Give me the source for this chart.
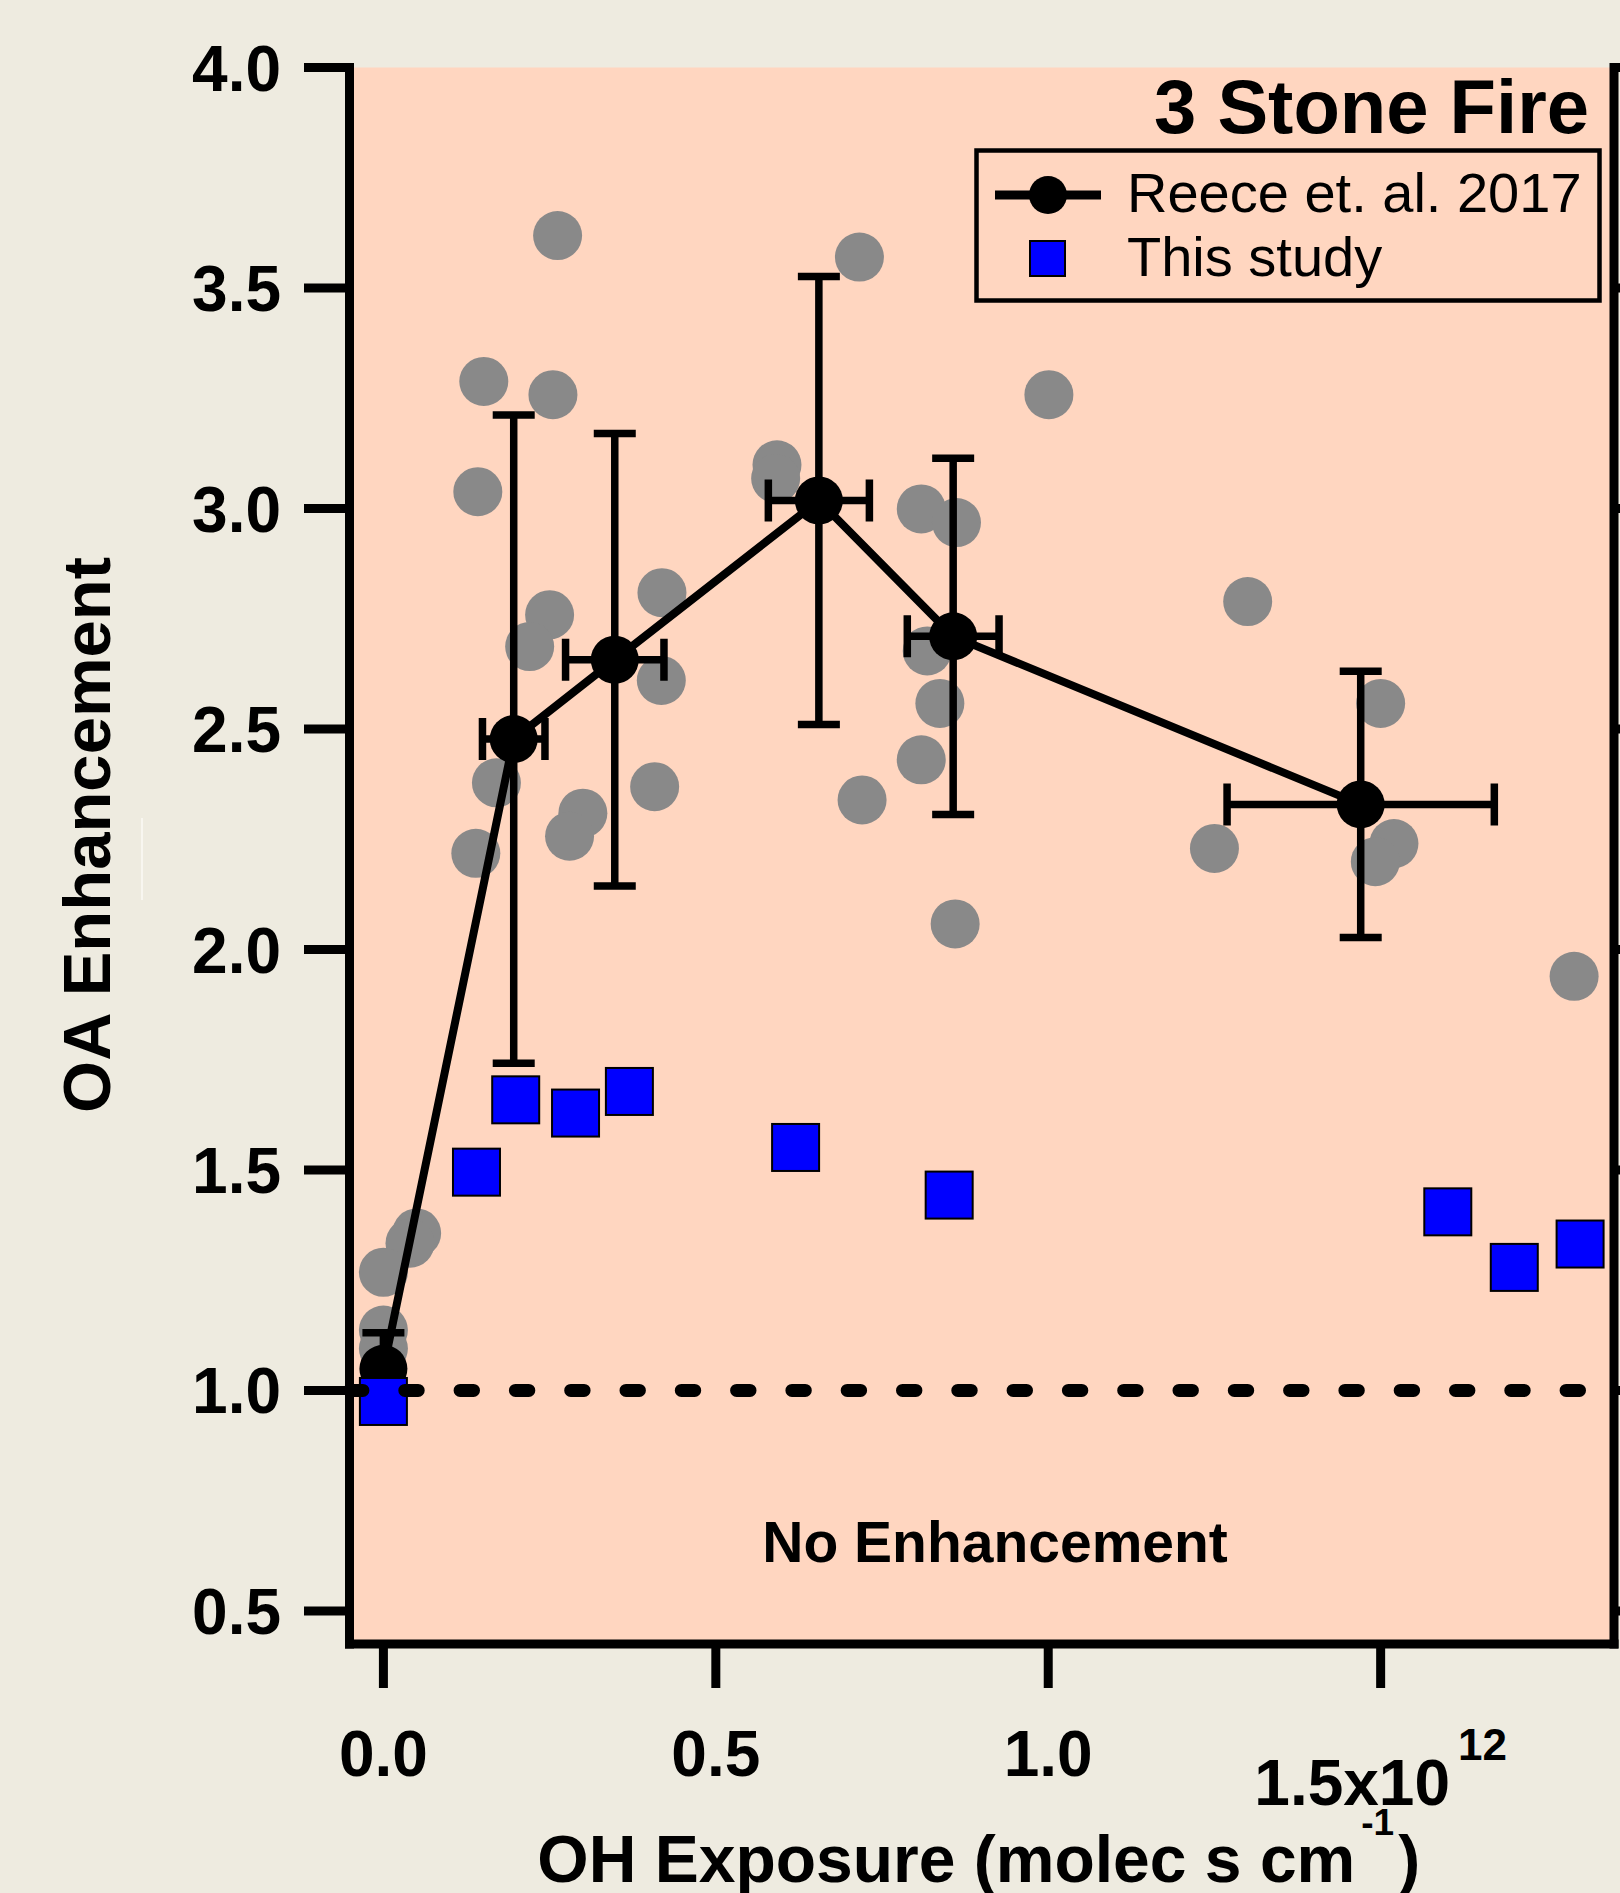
<!DOCTYPE html>
<html>
<head>
<meta charset="utf-8">
<script src="https://cdn.jsdelivr.net/npm/d3@7"></script>
<style>
  body { margin: 0; background: #eeebe0; }
  svg { display: block; }
</style>
</head>
<body>
<div id="chart"></div>
<script>
// DATA
// Reece et al. 2017 binned means (OH exposure in 1e12 molec s cm-1)
const reeceX = [0.0, 0.196, 0.348, 0.655, 0.857, 1.470];
const reeceY = [1.049, 2.477, 2.657, 3.018, 2.710, 2.329];
const reeceXErr = [0, 0.047, 0.074, 0.076, 0.069, 0.201];
const reeceYErr = [0.082, 0.735, 0.513, 0.508, 0.404, 0.302];

// Reece et al. 2017 individual samples (grey dots)
const sampleX = [0.262, 0.716, 0.151, 0.255, 1.001, 0.592, 0.590, 0.142, 0.809, 0.862,
  1.300, 0.419, 0.250, 0.220, 0.418, 0.818, 0.837, 1.500, 0.170, 0.408,
  0.300, 0.280, 0.139, 0.720, 0.809, 1.250, 1.520, 1.492, 0.860, 1.791,
  0.050, 0.040, 0.000, 0.000, 0.000];
const sampleY = [3.619, 3.570, 3.288, 3.258, 3.258, 3.099, 3.068, 3.038, 2.999, 2.968,
  2.789, 2.809, 2.759, 2.687, 2.610, 2.677, 2.558, 2.558, 2.378, 2.369,
  2.309, 2.257, 2.218, 2.339, 2.430, 2.229, 2.240, 2.199, 2.058, 1.939,
  1.357, 1.334, 1.268, 1.137, 1.095];

// This study
const studyX = [0.0, 0.140, 0.199, 0.289, 0.370, 0.620, 0.851, 1.601, 1.701, 1.800];
const studyY = [0.975, 1.495, 1.659, 1.629, 1.678, 1.551, 1.443, 1.405, 1.279, 1.332];

const yTicks = [0.5, 1.0, 1.5, 2.0, 2.5, 3.0, 3.5, 4.0];
const xTicks = [0.0, 0.5, 1.0, 1.5];
const legendLabels = ["Reece et. al. 2017", "This study"];
const baseline = 1.0;

// CANVAS SETUP
const width = 1620,
  height = 1893;
const plot = { left: 349.5, right: 1614, top: 67.5, bottom: 1644 };
const font = "'Liberation Sans', Arial, sans-serif";

const svg = d3
  .select("#chart")
  .append("svg")
  .attr("width", width)
  .attr("height", height)
  .style("font-family", font);

const xScale = d3
  .scaleLinear()
  .domain([-0.051, 1.851])
  .range([plot.left, plot.right]);

const yScale = d3
  .scaleLinear()
  .domain([0.425, 4.0])
  .range([plot.bottom, plot.top]);

svg
  .append("rect")
  .attr("x", plot.left)
  .attr("y", plot.top)
  .attr("width", plot.right - plot.left)
  .attr("height", plot.bottom - plot.top)
  .attr("fill", "#ffd6c0");

// faint stray stroke left of the y title in the original figure
svg
  .append("line")
  .attr("x1", 142)
  .attr("x2", 142)
  .attr("y1", 818)
  .attr("y2", 900)
  .attr("stroke", "#f8f6f0")
  .attr("stroke-width", 2);

// RENDER
const samples = sampleX.map((x, i) => ({ x, y: sampleY[i] }));
const reece = reeceX.map((x, i) => ({
  x,
  y: reeceY[i],
  ex: reeceXErr[i],
  ey: reeceYErr[i],
}));
const study = studyX.map((x, i) => ({ x, y: studyY[i] }));

svg
  .append("g")
  .selectAll("circle")
  .data(samples)
  .join("circle")
  .attr("cx", (d) => xScale(d.x))
  .attr("cy", (d) => yScale(d.y))
  .attr("r", 24.5)
  .attr("fill", "#898989");

const cap = 21;
svg
  .append("g")
  .selectAll("path")
  .data(reece)
  .join("path")
  .attr("fill", "none")
  .attr("stroke", "black")
  .attr("stroke-width", 7.5)
  .attr("d", (d) => {
    const cx = xScale(d.x),
      cy = yScale(d.y);
    const y0 = yScale(d.y - d.ey),
      y1 = yScale(d.y + d.ey);
    let p = `M${cx},${y0}V${y1}M${cx - cap},${y1}H${cx + cap}M${cx - cap},${y0}H${cx + cap}`;
    if (d.ex > 0) {
      const x0 = xScale(d.x - d.ex),
        x1 = xScale(d.x + d.ex);
      p += `M${x0},${cy}H${x1}M${x0},${cy - cap}V${cy + cap}M${x1},${cy - cap}V${cy + cap}`;
    }
    return p;
  });

svg
  .append("path")
  .datum(reece)
  .attr("fill", "none")
  .attr("stroke", "black")
  .attr("stroke-width", 8)
  .attr(
    "d",
    d3
      .line()
      .x((d) => xScale(d.x))
      .y((d) => yScale(d.y))
  );

svg
  .append("g")
  .selectAll("circle")
  .data(reece)
  .join("circle")
  .attr("cx", (d) => xScale(d.x))
  .attr("cy", (d) => yScale(d.y))
  .attr("r", 24)
  .attr("fill", "black");

const sq = 47;
svg
  .append("g")
  .selectAll("rect")
  .data(study)
  .join("rect")
  .attr("x", (d) => xScale(d.x) - sq / 2)
  .attr("y", (d) => yScale(d.y) - sq / 2)
  .attr("width", sq)
  .attr("height", sq)
  .attr("fill", "#0000ff")
  .attr("stroke", "black")
  .attr("stroke-width", 2);

// no enhancement line
svg
  .append("line")
  .attr("x1", plot.left)
  .attr("x2", plot.right)
  .attr("y1", yScale(baseline))
  .attr("y2", yScale(baseline))
  .attr("stroke", "black")
  .attr("stroke-width", 13)
  .attr("stroke-linecap", "round")
  .attr("stroke-dasharray", "13.4 41.9");

svg
  .append("text")
  .attr("x", xScale(0.92))
  .attr("y", yScale(0.611))
  .attr("text-anchor", "middle")
  .attr("font-weight", "bold")
  .attr("font-size", 57)
  .text("No Enhancement");

// AXES
function styleAxis(g) {
  g.select(".domain")
    .attr("stroke-width", 9)
    .attr("stroke-linecap", "square");
  g.selectAll(".tick line").attr("stroke-width", 9);
  g.selectAll(".tick text")
    .attr("fill", "black")
    .attr("font-family", font)
    .attr("font-weight", "bold")
    .attr("font-size", 64);
  return g;
}

const yl = svg
  .append("g")
  .attr("transform", `translate(${plot.left},0)`)
  .call(
    d3
      .axisLeft(yScale)
      .tickValues(yTicks)
      .tickFormat(d3.format(".1f"))
      .tickSize(45.5)
      .tickSizeOuter(0)
      .tickPadding(23)
      .offset(0)
  )
  .call(styleAxis);
yl.selectAll(".tick text").attr("dy", "0.36em");

svg
  .append("g")
  .attr("transform", `translate(${plot.right},0)`)
  .call(
    d3
      .axisRight(yScale)
      .tickValues(yTicks)
      .tickFormat("")
      .tickSize(45.5)
      .tickSizeOuter(0)
      .offset(0)
  )
  .call(styleAxis);

const xl = svg
  .append("g")
  .attr("transform", `translate(0,${plot.bottom})`)
  .call(
    d3
      .axisBottom(xScale)
      .tickValues(xTicks)
      .tickFormat(d3.format(".1f"))
      .tickSize(44)
      .tickSizeOuter(0)
      .tickPadding(43)
      .offset(0)
  )
  .call(styleAxis);

// last tick carries the exponent
xl.selectAll(".tick text")
  .filter((d) => d === 1.5)
  .attr("dy", "0")
  .attr("y", 161)
  .text("1.5x10")
  .append("tspan")
  .attr("dx", 8)
  .attr("dy", -45)
  .attr("font-size", 44)
  .text("12");

// axis titles
const xt = svg
  .append("text")
  .attr("x", (plot.left + plot.right) / 2 - 3)
  .attr("y", 1882)
  .attr("text-anchor", "middle")
  .attr("font-weight", "bold")
  .attr("font-size", 66)
  .text("OH Exposure (molec s cm");
xt.append("tspan")
  .attr("dx", 6)
  .attr("dy", -47)
  .attr("font-size", 37)
  .text("-1");
xt.append("tspan").attr("dx", 4).attr("dy", 47).text(")");

svg
  .append("text")
  .attr("transform", "translate(110,835) rotate(-90)")
  .attr("text-anchor", "middle")
  .attr("font-weight", "bold")
  .attr("font-size", 67)
  .text("OA Enhancement");

svg
  .append("text")
  .attr("x", 1589)
  .attr("y", 133)
  .attr("text-anchor", "end")
  .attr("font-weight", "bold")
  .attr("font-size", 76)
  .text("3 Stone Fire");

// LEGEND
const lg = svg.append("g");
lg.append("rect")
  .attr("x", 976.5)
  .attr("y", 150.5)
  .attr("width", 623)
  .attr("height", 150)
  .attr("fill", "#ffd6c0")
  .attr("stroke", "black")
  .attr("stroke-width", 4.5);

lg.append("line")
  .attr("x1", 995)
  .attr("x2", 1101)
  .attr("y1", 195)
  .attr("y2", 195)
  .attr("stroke", "black")
  .attr("stroke-width", 9);
lg.append("circle").attr("cx", 1048).attr("cy", 195).attr("r", 19);
lg.append("rect")
  .attr("x", 1030)
  .attr("y", 241)
  .attr("width", 35)
  .attr("height", 35)
  .attr("fill", "#0000ff")
  .attr("stroke", "black")
  .attr("stroke-width", 2);

lg.selectAll("text.label")
  .data(legendLabels)
  .join("text")
  .attr("class", "label")
  .attr("x", 1127)
  .attr("y", (d, i) => 212 + i * 64)
  .attr("font-size", 56)
  .text((d) => d);
</script>
</body>
</html>
